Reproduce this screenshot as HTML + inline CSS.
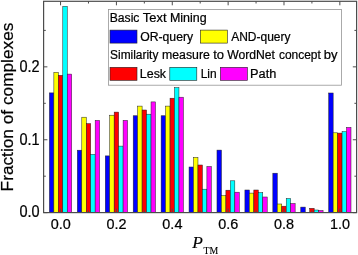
<!DOCTYPE html>
<html><head><meta charset="utf-8"><title>Chart</title>
<style>
html,body{margin:0;padding:0;background:#fff;}
body{width:358px;height:255px;overflow:hidden;}
.a{font-family:"Liberation Sans",Arial,sans-serif;fill:#000;stroke:#000;stroke-width:0.22px;}
.t{font-family:"Liberation Serif","Times New Roman",serif;fill:#000;stroke:#000;stroke-width:0.12px;}
</style></head><body>
<svg width="358" height="255" viewBox="0 0 358 255" style="display:block">
<rect width="358" height="255" fill="#fff"/>
<rect x="49.40" y="92.90" width="4.46" height="119.70" fill="#0000ff" stroke="#222" stroke-width="0.5"/>
<rect x="53.86" y="72.40" width="4.46" height="140.20" fill="#ffff00" stroke="#222" stroke-width="0.5"/>
<rect x="58.32" y="75.30" width="4.46" height="137.30" fill="#ff0000" stroke="#222" stroke-width="0.5"/>
<rect x="62.78" y="6.30" width="4.46" height="206.30" fill="#00ffff" stroke="#222" stroke-width="0.5"/>
<rect x="67.24" y="74.10" width="4.46" height="138.50" fill="#ff00ff" stroke="#222" stroke-width="0.5"/>
<rect x="77.33" y="150.20" width="4.46" height="62.40" fill="#0000ff" stroke="#222" stroke-width="0.5"/>
<rect x="81.79" y="117.20" width="4.46" height="95.40" fill="#ffff00" stroke="#222" stroke-width="0.5"/>
<rect x="86.25" y="123.60" width="4.46" height="89.00" fill="#ff0000" stroke="#222" stroke-width="0.5"/>
<rect x="90.71" y="154.40" width="4.46" height="58.20" fill="#00ffff" stroke="#222" stroke-width="0.5"/>
<rect x="95.17" y="120.40" width="4.46" height="92.20" fill="#ff00ff" stroke="#222" stroke-width="0.5"/>
<rect x="105.26" y="155.90" width="4.46" height="56.70" fill="#0000ff" stroke="#222" stroke-width="0.5"/>
<rect x="109.72" y="115.20" width="4.46" height="97.40" fill="#ffff00" stroke="#222" stroke-width="0.5"/>
<rect x="114.18" y="112.10" width="4.46" height="100.50" fill="#ff0000" stroke="#222" stroke-width="0.5"/>
<rect x="118.64" y="146.10" width="4.46" height="66.50" fill="#00ffff" stroke="#222" stroke-width="0.5"/>
<rect x="123.10" y="120.40" width="4.46" height="92.20" fill="#ff00ff" stroke="#222" stroke-width="0.5"/>
<rect x="133.19" y="115.75" width="4.46" height="96.85" fill="#0000ff" stroke="#222" stroke-width="0.5"/>
<rect x="137.65" y="106.10" width="4.46" height="106.50" fill="#ffff00" stroke="#222" stroke-width="0.5"/>
<rect x="142.11" y="110.00" width="4.46" height="102.60" fill="#ff0000" stroke="#222" stroke-width="0.5"/>
<rect x="146.57" y="114.20" width="4.46" height="98.40" fill="#00ffff" stroke="#222" stroke-width="0.5"/>
<rect x="151.03" y="101.90" width="4.46" height="110.70" fill="#ff00ff" stroke="#222" stroke-width="0.5"/>
<rect x="161.12" y="115.75" width="4.46" height="96.85" fill="#0000ff" stroke="#222" stroke-width="0.5"/>
<rect x="165.58" y="106.10" width="4.46" height="106.50" fill="#ffff00" stroke="#222" stroke-width="0.5"/>
<rect x="170.04" y="98.20" width="4.46" height="114.40" fill="#ff0000" stroke="#222" stroke-width="0.5"/>
<rect x="174.50" y="87.60" width="4.46" height="125.00" fill="#00ffff" stroke="#222" stroke-width="0.5"/>
<rect x="178.96" y="97.20" width="4.46" height="115.40" fill="#ff00ff" stroke="#222" stroke-width="0.5"/>
<rect x="189.05" y="167.00" width="4.46" height="45.60" fill="#0000ff" stroke="#222" stroke-width="0.5"/>
<rect x="193.51" y="157.40" width="4.46" height="55.20" fill="#ffff00" stroke="#222" stroke-width="0.5"/>
<rect x="197.97" y="165.00" width="4.46" height="47.60" fill="#ff0000" stroke="#222" stroke-width="0.5"/>
<rect x="202.43" y="189.20" width="4.46" height="23.40" fill="#00ffff" stroke="#222" stroke-width="0.5"/>
<rect x="206.89" y="166.50" width="4.46" height="46.10" fill="#ff00ff" stroke="#222" stroke-width="0.5"/>
<rect x="216.98" y="150.10" width="4.46" height="62.50" fill="#0000ff" stroke="#222" stroke-width="0.5"/>
<rect x="221.44" y="195.60" width="4.46" height="17.00" fill="#ffff00" stroke="#222" stroke-width="0.5"/>
<rect x="225.90" y="190.20" width="4.46" height="22.40" fill="#ff0000" stroke="#222" stroke-width="0.5"/>
<rect x="230.36" y="180.80" width="4.46" height="31.80" fill="#00ffff" stroke="#222" stroke-width="0.5"/>
<rect x="234.82" y="192.20" width="4.46" height="20.40" fill="#ff00ff" stroke="#222" stroke-width="0.5"/>
<rect x="244.91" y="190.00" width="4.46" height="22.60" fill="#0000ff" stroke="#222" stroke-width="0.5"/>
<rect x="249.37" y="193.10" width="4.46" height="19.50" fill="#ffff00" stroke="#222" stroke-width="0.5"/>
<rect x="253.83" y="190.00" width="4.46" height="22.60" fill="#ff0000" stroke="#222" stroke-width="0.5"/>
<rect x="258.29" y="192.60" width="4.46" height="20.00" fill="#00ffff" stroke="#222" stroke-width="0.5"/>
<rect x="262.75" y="197.00" width="4.46" height="15.60" fill="#ff00ff" stroke="#222" stroke-width="0.5"/>
<rect x="272.84" y="173.20" width="4.46" height="39.40" fill="#0000ff" stroke="#222" stroke-width="0.5"/>
<rect x="277.30" y="204.00" width="4.46" height="8.60" fill="#ffff00" stroke="#222" stroke-width="0.5"/>
<rect x="281.76" y="206.20" width="4.46" height="6.40" fill="#ff0000" stroke="#222" stroke-width="0.5"/>
<rect x="286.22" y="198.50" width="4.46" height="14.10" fill="#00ffff" stroke="#222" stroke-width="0.5"/>
<rect x="290.68" y="203.50" width="4.46" height="9.10" fill="#ff00ff" stroke="#222" stroke-width="0.5"/>
<rect x="300.77" y="207.10" width="4.46" height="5.50" fill="#0000ff" stroke="#222" stroke-width="0.5"/>
<rect x="309.69" y="208.30" width="4.46" height="4.30" fill="#ff0000" stroke="#222" stroke-width="0.5"/>
<rect x="314.15" y="210.00" width="4.46" height="2.60" fill="#00ffff" stroke="#222" stroke-width="0.5"/>
<rect x="318.61" y="210.50" width="4.46" height="2.10" fill="#ff00ff" stroke="#222" stroke-width="0.5"/>
<rect x="328.70" y="93.00" width="4.46" height="119.60" fill="#0000ff" stroke="#222" stroke-width="0.5"/>
<rect x="333.16" y="132.80" width="4.46" height="79.80" fill="#ffff00" stroke="#222" stroke-width="0.5"/>
<rect x="337.62" y="133.10" width="4.46" height="79.50" fill="#ff0000" stroke="#222" stroke-width="0.5"/>
<rect x="342.08" y="131.60" width="4.46" height="81.00" fill="#00ffff" stroke="#222" stroke-width="0.5"/>
<rect x="346.54" y="127.40" width="4.46" height="85.20" fill="#ff00ff" stroke="#222" stroke-width="0.5"/>
<rect x="43.6" y="1.3" width="313.0" height="211.29999999999998" fill="none" stroke="#4c4c4c" stroke-width="1.2"/>
<path d="M60.55 212.6v-4M60.55 1.3v4" stroke="#4c4c4c" stroke-width="1"/>
<path d="M88.48 212.6v-2.2M88.48 1.3v2.2" stroke="#4c4c4c" stroke-width="1"/>
<path d="M116.41 212.6v-4M116.41 1.3v4" stroke="#4c4c4c" stroke-width="1"/>
<path d="M144.34 212.6v-2.2M144.34 1.3v2.2" stroke="#4c4c4c" stroke-width="1"/>
<path d="M172.27 212.6v-4M172.27 1.3v4" stroke="#4c4c4c" stroke-width="1"/>
<path d="M200.20 212.6v-2.2M200.20 1.3v2.2" stroke="#4c4c4c" stroke-width="1"/>
<path d="M228.13 212.6v-4M228.13 1.3v4" stroke="#4c4c4c" stroke-width="1"/>
<path d="M256.06 212.6v-2.2M256.06 1.3v2.2" stroke="#4c4c4c" stroke-width="1"/>
<path d="M283.99 212.6v-4M283.99 1.3v4" stroke="#4c4c4c" stroke-width="1"/>
<path d="M311.92 212.6v-2.2M311.92 1.3v2.2" stroke="#4c4c4c" stroke-width="1"/>
<path d="M339.85 212.6v-4M339.85 1.3v4" stroke="#4c4c4c" stroke-width="1"/>
<path d="M43.6 212.65h3.8M356.6 212.65h-3.8" stroke="#4c4c4c" stroke-width="1"/>
<path d="M43.6 176.20h2.2M356.6 176.20h-2.2" stroke="#4c4c4c" stroke-width="1"/>
<path d="M43.6 139.75h3.8M356.6 139.75h-3.8" stroke="#4c4c4c" stroke-width="1"/>
<path d="M43.6 103.30h2.2M356.6 103.30h-2.2" stroke="#4c4c4c" stroke-width="1"/>
<path d="M43.6 66.85h3.8M356.6 66.85h-3.8" stroke="#4c4c4c" stroke-width="1"/>
<path d="M43.6 30.40h2.2M356.6 30.40h-2.2" stroke="#4c4c4c" stroke-width="1"/>
<text transform="translate(60.65,228.8) scale(0.995,1.065)" font-size="14.5" text-anchor="middle" class="a">0.0</text>
<text transform="translate(116.51,228.8) scale(0.995,1.065)" font-size="14.5" text-anchor="middle" class="a">0.2</text>
<text transform="translate(172.37,228.8) scale(0.995,1.065)" font-size="14.5" text-anchor="middle" class="a">0.4</text>
<text transform="translate(228.23,228.8) scale(0.995,1.065)" font-size="14.5" text-anchor="middle" class="a">0.6</text>
<text transform="translate(284.09,228.8) scale(0.995,1.065)" font-size="14.5" text-anchor="middle" class="a">0.8</text>
<text transform="translate(339.95,228.8) scale(0.995,1.065)" font-size="14.5" text-anchor="middle" class="a">1.0</text>
<text transform="translate(39.6,217.45) scale(1,1.075)" font-size="14.5" text-anchor="end" class="a">0.0</text>
<text transform="translate(39.6,144.55) scale(1,1.075)" font-size="14.5" text-anchor="end" class="a">0.1</text>
<text transform="translate(39.6,71.65) scale(1,1.075)" font-size="14.5" text-anchor="end" class="a">0.2</text>
<text transform="translate(13.2,107.0) rotate(-90)" font-size="17.25" text-anchor="middle" class="a">Fraction of complexes</text>
<text x="192.3" y="248" font-size="17.4" class="t" font-style="italic">P</text>
<text x="203.6" y="253.5" font-size="9.8" class="t">TM</text>
<rect x="108.4" y="9.5" width="232.99999999999997" height="75.7" fill="#fff" stroke="#959595" stroke-width="0.8"/>
<text x="109.72" y="22.2" font-size="12.42" textLength="29.72" lengthAdjust="spacingAndGlyphs" class="a">Basic</text>
<text x="142.81" y="22.2" font-size="12.42" textLength="23.68" lengthAdjust="spacingAndGlyphs" class="a">Text</text>
<text x="169.90" y="22.2" font-size="12.42" textLength="36.70" lengthAdjust="spacingAndGlyphs" class="a">Mining</text>
<rect x="110" y="30.1" width="27" height="13" fill="#0000ff" stroke="#222" stroke-width="0.6"/>
<text x="140.18" y="40.9" font-size="12.42" textLength="52.95" lengthAdjust="spacingAndGlyphs" class="a">OR-query</text>
<rect x="200.3" y="30.1" width="27" height="13" fill="#ffff00" stroke="#222" stroke-width="0.6"/>
<text x="231.20" y="40.9" font-size="12.42" textLength="59.31" lengthAdjust="spacingAndGlyphs" class="a">AND-query</text>
<text x="110.10" y="59.1" font-size="12.42" textLength="48.27" lengthAdjust="spacingAndGlyphs" class="a">Similarity</text>
<text x="162.03" y="59.1" font-size="12.42" textLength="47.90" lengthAdjust="spacingAndGlyphs" class="a">measure</text>
<text x="213.15" y="59.1" font-size="12.42" textLength="10.88" lengthAdjust="spacingAndGlyphs" class="a">to</text>
<text x="227.18" y="59.1" font-size="12.42" textLength="47.83" lengthAdjust="spacingAndGlyphs" class="a">WordNet</text>
<text x="278.92" y="59.1" font-size="12.42" textLength="41.96" lengthAdjust="spacingAndGlyphs" class="a">concept</text>
<text x="323.83" y="59.1" font-size="12.42" textLength="13.76" lengthAdjust="spacingAndGlyphs" class="a">by</text>
<rect x="110" y="67.3" width="27" height="13" fill="#ff0000" stroke="#222" stroke-width="0.6"/>
<text x="139.80" y="77.7" font-size="12.42" textLength="26.30" lengthAdjust="spacingAndGlyphs" class="a">Lesk</text>
<rect x="169.8" y="67.3" width="27" height="13" fill="#00ffff" stroke="#222" stroke-width="0.6"/>
<text x="200.64" y="77.7" font-size="12.42" textLength="15.94" lengthAdjust="spacingAndGlyphs" class="a">Lin</text>
<rect x="220.4" y="67.3" width="27" height="13" fill="#ff00ff" stroke="#222" stroke-width="0.6"/>
<text x="250.07" y="77.7" font-size="12.42" textLength="26.23" lengthAdjust="spacingAndGlyphs" class="a">Path</text>
</svg>
</body></html>
